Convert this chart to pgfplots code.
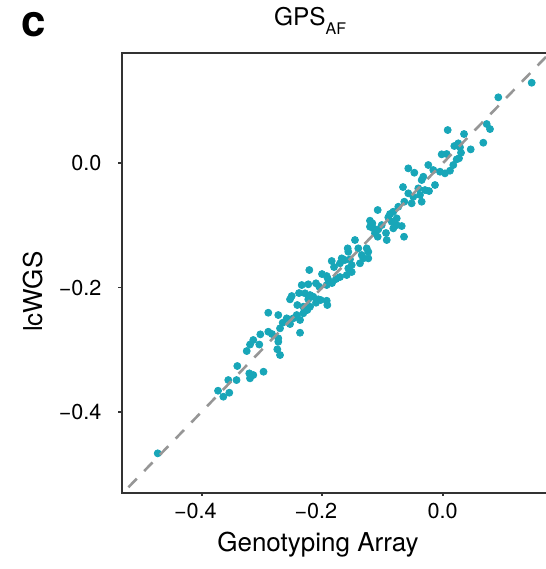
\documentclass[border=0pt]{standalone}
\usepackage{fontspec}
\setmainfont{TeX Gyre Heros}
\usepackage{pgfplots}
\pgfplotsset{compat=1.18}
\definecolor{dotteal}{RGB}{24,166,184}
\definecolor{axisdark}{RGB}{51,51,51}
\definecolor{refgray}{RGB}{150,150,150}

\begin{document}
\begin{tikzpicture}
\begin{axis}[name=ax, scale only axis, width=214.15pt, height=219.85pt,
  xmin=-0.5328, xmax=0.1781, ymin=-0.5304, ymax=0.1777,
  axis line style={draw=axisdark, line width=1.15pt},
  tick style={draw=axisdark, line width=0.9pt},
  major tick length=1.6pt, tick align=outside,
  xtick pos=bottom, ytick pos=left,
  xtick={-0.4,-0.2,0}, xticklabels={\llap{−}0.4,\llap{−}0.2,0.0},
  ytick={-0.4,-0.2,0}, yticklabels={−0.4,−0.2,0.0},
  tick label style={font=\fontsize{10.8pt}{12pt}\selectfont},
  yticklabel style={xshift=-5pt},
  xlabel={Genotyping Array}, ylabel={lcWGS},
  label style={font=\fontsize{13pt}{15pt}\selectfont},
  xlabel style={at={(axis description cs:0.4583,-0.1342)}, anchor=base},
  ylabel style={at={(axis description cs:-0.1838,0.4571)}, anchor=base},
  title={GPS\raisebox{-4.3pt}{\fontsize{8pt}{9pt}\selectfont AF}},
  title style={font=\fontsize{12.2pt}{14pt}\selectfont,
    at={(axis description cs:0.3393,1.0341)}, anchor=base west},
  clip mode=individual]
% scatter: genotyping array vs lcWGS
\addplot[only marks, mark=*, mark size=1.75pt, color=dotteal] coordinates {
  (-0.4730,-0.4670) (-0.3729,-0.3662) (-0.3641,-0.3758) (-0.3542,-0.3694)
  (-0.3559,-0.3490) (-0.3422,-0.3490) (-0.3409,-0.3264) (-0.3210,-0.3382)
  (-0.3144,-0.3409) (-0.3198,-0.3462) (-0.2974,-0.3356) (-0.3253,-0.3023)
  (-0.3198,-0.2918) (-0.3044,-0.2918) (-0.3144,-0.2845) (-0.3027,-0.2754)
  (-0.2214,-0.1718) (-0.2003,-0.1783) (-0.1925,-0.1815) (-0.2340,-0.1960)
  (-0.2231,-0.1948) (-0.2103,-0.1932) (-0.2048,-0.1987) (-0.1925,-0.1960)
  (-0.2506,-0.2137) (-0.2534,-0.2190) (-0.2285,-0.2093) (-0.2202,-0.2121)
  (-0.2148,-0.2148) (-0.2065,-0.2190) (-0.2413,-0.2282) (-0.2314,-0.2309)
  (-0.2202,-0.2309) (-0.2103,-0.2245) (-0.2025,-0.2201) (-0.1925,-0.2213)
  (-0.1915,-0.2282) (-0.2895,-0.2406) (-0.2729,-0.2443) (-0.2589,-0.2496)
  (-0.2534,-0.2523) (-0.2480,-0.2496) (-0.2423,-0.2443) (-0.2368,-0.2523)
  (-0.2314,-0.2415) (-0.2247,-0.2362) (-0.2656,-0.2567) (-0.2368,-0.2728)
  (-0.2895,-0.2712) (-0.2833,-0.2749) (-0.2729,-0.2818) (-0.2729,-0.2873)
  (-0.2745,-0.2995) (-0.2700,-0.3087) (-0.1842,-0.1573) (-0.1837,-0.1928)
  (-0.1904,-0.1863) (-0.2385,-0.2089) (-0.2231,-0.2190) (-0.2534,-0.2588)
  (-0.2700,-0.2657)
  (-0.0659,-0.0382) (-0.0637,-0.0618) (-0.0737,-0.0699) (-0.1079,-0.0752)
  (-0.0875,-0.0816) (-0.0903,-0.0870) (-0.0820,-0.0779) (-0.0763,-0.0886)
  (-0.0846,-0.0940) (-0.0763,-0.0994) (-0.0820,-0.1047) (-0.0680,-0.1010)
  (-0.1207,-0.0924) (-0.1168,-0.0966) (-0.1207,-0.1021) (-0.1152,-0.1047)
  (-0.1012,-0.0994) (-0.1069,-0.1063) (-0.1124,-0.1127) (-0.0929,-0.1235)
  (-0.1079,-0.1182) (-0.0642,-0.1182) (-0.1456,-0.1235) (-0.1401,-0.1369)
  (-0.1261,-0.1369) (-0.1235,-0.1424) (-0.1344,-0.1477) (-0.1318,-0.1530)
  (-0.1235,-0.1530) (-0.1577,-0.1369) (-0.1567,-0.1424) (-0.1676,-0.1530)
  (-0.1705,-0.1610) (-0.1622,-0.1557) (-0.1539,-0.1546) (-0.1510,-0.1638)
  (-0.1567,-0.1691) (-0.1373,-0.1610) (-0.1510,-0.1750) (-0.1593,-0.1799)
  (-0.1705,-0.1831) (-0.1771,-0.1863) (-0.1804,-0.1670) (-0.0941,-0.1122)
  (0.1477,0.1298) (0.0923,0.1063) (0.0730,0.0633) (0.0785,0.0552)
  (0.0083,0.0536) (0.0354,0.0472) (0.0674,0.0332) (0.0259,0.0322)
  (0.0193,0.0279) (0.0287,0.0258) (0.0465,0.0225) (0.0304,0.0171)
  (-0.0017,0.0145) (0.0066,0.0150) (0.0271,0.0081) (0.0232,0.0064)
  (-0.0239,-0.0027) (0.0176,-0.0027) (-0.0571,-0.0081) (-0.0471,-0.0151)
  (-0.0156,-0.0108) (-0.0045,-0.0135) (0.0038,-0.0161) (0.0121,-0.0119)
  (-0.0322,-0.0216) (-0.0349,-0.0269) (-0.0128,-0.0349) (-0.0405,-0.0403)
  (-0.0294,-0.0430) (-0.0227,-0.0446) (-0.0571,-0.0483) (-0.0488,-0.0538)
  (-0.0377,-0.0510) (-0.0349,-0.0618) (-0.0515,-0.0644)
};
% identity line
\addplot[refgray, line width=1.3pt, dash pattern=on 6pt off 5.3pt]
  coordinates {(-0.6,-0.6) (0.3,0.3)};
\end{axis}
\node[anchor=base west, font=\fontsize{22pt}{24pt}\selectfont\bfseries]
  at ([shift={(-53.6pt,227.85pt)}]ax.south west) {c};
\pgfresetboundingbox
\path[use as bounding box] ([shift={(-60.85pt,-38.15pt)}]ax.south west)
  rectangle ([shift={(212.15pt,246.35pt)}]ax.south west);
\end{tikzpicture}
\end{document}
